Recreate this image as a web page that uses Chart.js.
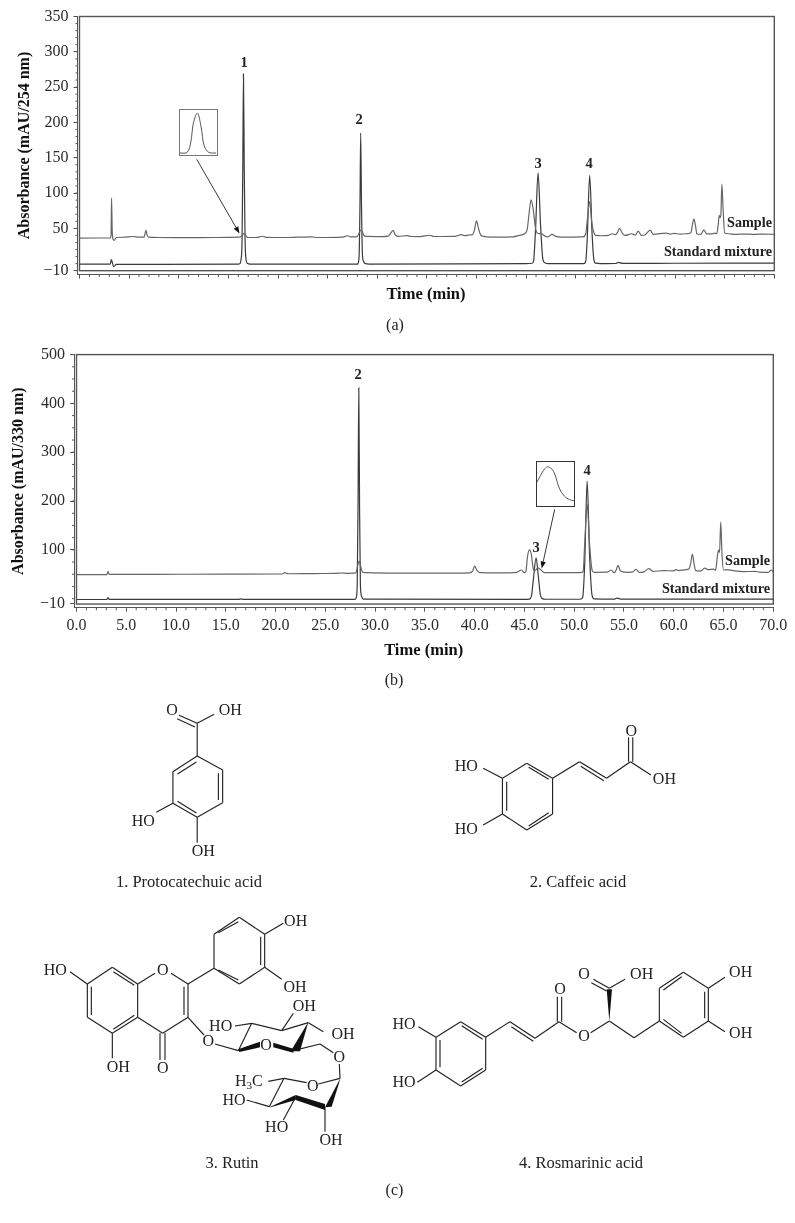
<!DOCTYPE html>
<html>
<head>
<meta charset="utf-8">
<title>HPLC chromatograms</title>
<script src="https://cdn.jsdelivr.net/npm/chart.js@4"></script>
<style>
  html, body { margin: 0; padding: 0; background: #fff; }
  #page { position: relative; width: 795px; height: 1223px; overflow: hidden; }
  canvas { position: absolute; display: block; }
  .inset { position: absolute; box-sizing: border-box; background: #fff; }
  .inset canvas { left: 0; top: 0; }
  #art { position: absolute; left: 0; top: 0; pointer-events: none; }
  #art text { font-family: "Liberation Serif", serif; fill: #222; }
  #art .lbl { font-weight: bold; }
  #art line, #art path { stroke: #222; fill: none; }
  #art polygon { fill: #111; stroke: none; }
</style>
</head>
<body>
<div id="page">
  <canvas id="chartA" width="795" height="310" style="left:0;top:0"></canvas>
  <canvas id="chartB" width="795" height="345" style="left:0;top:340px"></canvas>
  <div class="inset" style="left:179px;top:109px;width:39px;height:47px;border:1.5px solid #777">
    <canvas id="insetA" width="36" height="44"></canvas>
  </div>
  <div class="inset" style="left:536px;top:461px;width:39px;height:46px;border:1px solid #333">
    <canvas id="insetB" width="37" height="44"></canvas>
  </div>
  <svg id="art" width="795" height="1223" xmlns="http://www.w3.org/2000/svg"></svg>
</div>
<script>
// ---- panel (a) 254 nm ----
const yTicksA = [-10, 50, 100, 150, 200, 250, 300, 350];
const sampleTimeA = [0,3.1,3.18,3.23,3.3,3.4,3.5,3.7,4.5,5.4,6,6.5,6.6,6.69,6.8,6.95,8,12,15,16,16.25,16.4,16.55,16.7,16.85,17,18,18.4,18.8,21,23.4,24,26.5,27,27.3,27.9,28.1,28.25,28.38,28.5,28.65,28.9,30.5,31.1,31.35,31.6,31.8,32.1,33,33.4,34.3,35.3,35.7,37.8,38.5,38.8,39.2,39.6,39.8,40,40.2,40.4,40.7,41.5,43.7,44.3,44.8,45.1,45.3,45.5,45.7,45.95,46.15,46.5,46.9,47.2,47.6,48,48.5,50.7,51,51.15,51.4,51.6,51.8,52,52.6,53.3,53.7,54,54.2,54.4,54.7,55,55.6,56,56.3,56.6,57,57.5,57.8,59.1,59.5,59.9,60.5,61.3,61.6,61.75,61.9,62.05,62.2,62.6,62.9,63.2,63.7,64,64.2,64.35,64.45,64.55,64.62,64.72,64.85,65,65.4,66,67,68,69,70];
const sampleValueA = [36.2,36.4,40,92.8,45,34,32.9,37,37.4,38.4,37.4,37.6,42,47.5,41,37.5,37,36.8,37.2,37.4,38,40,42.5,41,38,37,37.3,38.8,37.3,37,37.8,37,37.6,39.5,37.8,38,41,46,48,45,40,38.5,38.3,39,43,47,41,38.6,39.6,38.4,38.2,40.2,38.4,38.6,41,39.6,40.5,41,48,60.7,50,41,38.6,37.6,38,40,42,48,72,90.4,78,50,43,42.5,39,38,41.4,38.5,37.6,38,42,60,88,60,45,40,39.5,40,42.3,41,44,49.9,43,40,42.3,40.5,46.1,40,41,47.5,41.5,43.3,41.9,42.8,41.9,42.5,44,55,63.1,55,42,41.5,47.5,42,42,43.3,42.5,55,68.3,65,70,112.6,75,43.3,42.3,41.4,41.9,41.4,41.9,41.4];
const standardTimeA = [0,3.1,3.2,3.3,3.45,3.7,8,16,16.15,16.28,16.38,16.45,16.52,16.6,16.68,16.78,16.9,17.2,28,28.05,28.17,28.26,28.33,28.41,28.5,28.62,28.8,29.2,45,45.6,45.75,45.95,46.2,46.45,46.65,46.8,47.2,50.8,51,51.15,51.4,51.65,51.82,52,52.5,54,54.3,54.7,60,70];
const standardValueA = [-0.6,-0.6,5.6,2,-4.3,-1,-1,-0.8,0,6,35,130,268.7,130,35,6,0.6,-0.6,-0.8,0,10,85,184.7,85,15,3,0,-0.6,0,0.5,4,50,128.6,55,10,2,0,0,3,35,124.9,40,6,0.6,0,0.2,1.8,0.3,0.5,0.8];
const insetTimeA = [16.2,16.34,16.41,16.46,16.54,16.61,16.67,16.76,16.9];
const insetValueA = [37,37.1,38.5,41.1,42.5,40.6,38,37.1,37];

// ---- panel (b) 330 nm ----
const yTicksB = [-10, 100, 200, 300, 400, 500];
const xTicks = [0, 5, 10, 15, 20, 25, 30, 35, 40, 45, 50, 55, 60, 65, 70];
const sampleTimeB = [0,3.05,3.17,3.3,8,15,20.7,20.9,21.3,24,26,26.6,27.2,27.9,28.1,28.25,28.4,28.55,28.75,29,32,36,39.5,39.8,40,40.2,40.5,43,44.2,44.7,45,45.15,45.3,45.5,45.7,45.9,46.1,46.35,46.6,47,50.6,50.9,51.05,51.3,51.55,51.8,52,53.3,53.7,54,54.2,54.4,54.65,55.3,55.8,56.2,56.55,57,57.5,57.9,59,60,60.2,60.5,61.2,61.5,61.7,61.87,62.05,62.2,62.7,63.1,63.5,64,64.2,64.4,64.5,64.6,64.72,64.85,65,65.3,66,67,68.2,68.6,69.5,69.8,70];
const sampleValueB = [49.2,49.4,55.3,49.6,49.8,50.2,50.5,53.2,51,51.5,51.9,52.6,52,52.2,54,68,77.6,66,54,53.2,52.2,52.4,53,57,66.8,59,53.5,53,54,58.7,53.2,56,85,100,90,60,58,63,60,53.2,53.2,56,110,194,110,58,54,54.2,58.7,53.5,58,68.1,56.5,54,54.2,60,53.8,55,61.4,56,57.3,57,59.3,57.5,59.3,60.7,72,91.2,70,57.3,56.6,62.7,59.3,60.7,58,90,99.3,95,156.9,90,58.7,59.5,57.3,55.5,55.9,54.5,53.9,58.7,55];
const standardTimeB = [0,3.05,3.17,3.3,16.3,16.5,16.8,28,28.1,28.2,28.28,28.36,28.44,28.52,28.64,28.8,45,45.5,45.7,45.9,46.17,46.4,46.6,46.8,47.2,50.6,50.85,51.05,51.3,51.55,51.8,52,54,54.3,54.7,70];
const standardValueB = [-1.7,-1.7,2.4,-1.6,-1.5,-0.3,-1.4,-1.4,2,28,180,432,180,28,5,-1,-1.4,-1,5,40,83.7,45,8,0,-1.2,-1.2,3,70,241,85,6,-0.5,-1,1,-0.8,-0.8];
const insetTimeB = [46,46.09,46.18,46.28,46.4,46.48,46.61,46.74,46.87,47];
const insetValueB = [59.4,60.9,62.2,63,62.5,61.3,57.8,56.1,55.3,55];

const serif = '"Liberation Serif", serif';
const inkAxis = '#555';

function pts(ts, vs) { return ts.map((t, i) => ({ x: t, y: vs[i] })); }

// frame of the plot plus the short ticks the scale cannot draw itself
function frameAndMinor(boxBottom, yMinorFrom, yMinorStep, yMax) {
  return {
    id: 'frameAndMinor',
    beforeDatasetsDraw(chart) {
      const c = chart.ctx, x = chart.scales.x, y = chart.scales.y, a = chart.chartArea;
      c.save();
      c.strokeStyle = inkAxis;
      c.lineWidth = 1.4;
      c.strokeRect(x.getPixelForValue(0), y.getPixelForValue(yMax), x.getPixelForValue(70) - x.getPixelForValue(0), y.getPixelForValue(boxBottom) - y.getPixelForValue(yMax));
      c.lineWidth = 1;
      c.beginPath();
      for (let t = 0; t <= 70; t++) {
        if (t % 5 === 0) continue;
        const px = x.getPixelForValue(t);
        c.moveTo(px, a.bottom);
        c.lineTo(px, a.bottom + 2.5);
      }
      for (let v = yMinorFrom; v <= yMax; v += yMinorStep) {
        const py = y.getPixelForValue(v);
        c.moveTo(a.left, py);
        c.lineTo(a.left - 2, py);
      }
      c.stroke();
      c.restore();
    }
  };
}

function makeChart(id, cfg) {
  const lineStyle = { borderWidth: 1.2, pointRadius: 0, cubicInterpolationMode: 'monotone' };
  return new Chart(document.getElementById(id), {
    type: 'line',
    data: {
      datasets: [
        { label: 'Sample', data: pts(cfg.sampleT, cfg.sampleV), borderColor: '#666', ...lineStyle },
        { label: 'Standard mixture', data: pts(cfg.stdT, cfg.stdV), borderColor: '#3a3a3a', ...lineStyle }
      ]
    },
    options: {
      responsive: false,
      animation: false,
      parsing: false,
      normalized: true,
      layout: { padding: { left: 0, top: cfg.top, right: cfg.right, bottom: 0 } },
      plugins: { legend: { display: false }, tooltip: { enabled: false } },
      scales: {
        x: {
          type: 'linear', min: cfg.xMin, max: 70,
          afterBuildTicks: s => { s.ticks = xTicks.map(v => ({ value: v })); },
          afterFit: s => { s.height = cfg.xHeight; },
          grid: { drawOnChartArea: false, tickLength: 4, tickColor: inkAxis, tickWidth: 1 },
          border: { color: inkAxis, width: 1 },
          ticks: { display: cfg.xLabels, autoSkip: false, maxRotation: 0, padding: 4, color: '#2b2b2b', font: { family: serif, size: 16 }, callback: v => v.toFixed(1) },
          title: { display: true, text: 'Time (min)', color: '#111', font: { family: serif, size: 16.5, weight: 'bold' }, padding: { top: 0, bottom: cfg.xTitlePad } }
        },
        y: {
          type: 'linear', min: cfg.yMin, max: cfg.yMax,
          afterBuildTicks: s => { s.ticks = cfg.yTicks.map(v => ({ value: v })); },
          afterFit: s => { s.width = cfg.yWidth; },
          grid: { drawOnChartArea: false, tickLength: 4, tickColor: inkAxis, tickWidth: 1 },
          border: { color: inkAxis, width: 1 },
          ticks: { autoSkip: false, padding: 5, color: '#2b2b2b', font: { family: serif, size: 16 }, callback: v => String(v).replace('-', '\u2212') },
          title: { display: true, text: cfg.yTitle, color: '#111', font: { family: serif, size: 16, weight: 'bold' }, padding: { top: cfg.yTitlePad, bottom: 0 } }
        }
      }
    },
    plugins: [frameAndMinor(cfg.boxBottom, cfg.minorFrom, cfg.minorStep, cfg.yMax)]
  });
}

makeChart('chartA', {
  sampleT: sampleTimeA, sampleV: sampleValueA, stdT: standardTimeA, stdV: standardValueA,
  yTicks: yTicksA, yMin: -15.4, yMax: 350, boxBottom: -10, minorFrom: -10, minorStep: 10,
  xMin: -0.2, xLabels: false, top: 16.5, right: 20.7, xHeight: 35.5, yWidth: 77.5,
  yTitle: 'Absorbance (mAU/254 nm)', yTitlePad: 15, xTitlePad: 5
});
makeChart('chartB', {
  sampleT: sampleTimeB, sampleV: sampleValueB, stdT: standardTimeB, stdV: standardValueB,
  yTicks: yTicksB, yMin: -18.5, yMax: 500, boxBottom: -11, minorFrom: 0, minorStep: 25,
  xMin: -0.25, xLabels: true, top: 12.3, right: 21.7, xHeight: 77.3, yWidth: 74,
  yTitle: 'Absorbance (mAU/330 nm)', yTitlePad: 9, xTitlePad: 24
});

function makeInset(id, ts, vs, yMin, yMax, xMin, xMax) {
  return new Chart(document.getElementById(id), {
    type: 'line',
    data: { datasets: [{ data: pts(ts, vs), borderColor: '#555', borderWidth: 1, pointRadius: 0, tension: 0.35 }] },
    options: {
      responsive: false, animation: false, parsing: false,
      plugins: { legend: { display: false }, tooltip: { enabled: false } },
      scales: {
        x: { type: 'linear', display: false, min: xMin, max: xMax },
        y: { type: 'linear', display: false, min: yMin, max: yMax }
      }
    }
  });
}
makeInset('insetA', insetTimeA, insetValueA, 36.87, 42.93, 16.2, 16.9);
makeInset('insetB', insetTimeB, insetValueB, 53.77, 64.15, 46, 47);

// ---- labels, arrows and the structure drawings (c) ----
const art = document.getElementById('art');
let svg = '';
function txt(x, y, s, size, cls, anchor) {
  svg += `<text x="${x}" y="${y}" font-size="${size}" text-anchor="${anchor || 'middle'}"${cls ? ` class="${cls}"` : ''}>${s}</text>`;
}
function arrow(x1, y1, x2, y2) {
  const a = Math.atan2(y2 - y1, x2 - x1), l = 7, w = 2.6;
  const bx = x2 - l * Math.cos(a), by = y2 - l * Math.sin(a);
  svg += `<line x1="${x1}" y1="${y1}" x2="${bx}" y2="${by}" stroke-width="0.9"/>`;
  svg += `<polygon points="${x2},${y2} ${bx - w * Math.sin(a)},${by + w * Math.cos(a)} ${bx + w * Math.sin(a)},${by - w * Math.cos(a)}"/>`;
}

[['1', 244, 67], ['2', 359, 124], ['3', 538, 168], ['4', 589, 168]].forEach(l => txt(l[1], l[2], l[0], 14.5, 'lbl'));
[['2', 358, 379], ['3', 536, 552], ['4', 587, 475]].forEach(l => txt(l[1], l[2], l[0], 14.5, 'lbl'));
txt(772, 227, 'Sample', 14.2, 'lbl', 'end');
txt(772, 255.5, 'Standard mixture', 14.2, 'lbl', 'end');
txt(770, 564.5, 'Sample', 14.2, 'lbl', 'end');
txt(770, 593, 'Standard mixture', 14.2, 'lbl', 'end');
arrow(196.7, 159.3, 239.5, 233.5);
arrow(554.7, 509.3, 541.7, 568.5);
txt(395, 330, '(a)', 16);
txt(394, 685, '(b)', 16);
txt(394.5, 1195, '(c)', 16);
txt(189, 887, '1. Protocatechuic acid', 16.5);
txt(578, 887, '2. Caffeic acid', 16.5);
txt(232, 1168, '3. Rutin', 16.5);
txt(581, 1168, '4. Rosmarinic acid', 16.5);

let place = { ox: 0, oy: 0, sx: 1, sy: 1 };
const px = x => place.ox + x * place.sx;
const py = y => place.oy + y * place.sy;
function bonds(list) {
  list.forEach(b => { svg += `<line x1="${px(b[0])}" y1="${py(b[1])}" x2="${px(b[2])}" y2="${py(b[3])}" stroke-width="1.15"/>`; });
}
function wedge(list) {
  list.forEach(p => {
    const out = p.split(' ').map(q => { const c = q.split(','); return px(+c[0]) + ',' + py(+c[1]); });
    svg += `<polygon points="${out.join(' ')}"/>`;
  });
}
function atoms(list) {
  list.forEach(a => txt(px(a[1]), py(a[2]) + 5, a[0], 16));
}

place = { ox: 90, oy: 690, sx: 0.3856, sy: 0.33333 };
bonds([[278,198,344,240],[344,240,344,338],[344,338,278,382],[278,382,215,340],[215,340,215,245],[215,245,278,198],
  [227,252,276,216],[333,250,333,330],[227,334,276,369],
  [278,198,278,100],[278,100,231,76],[272,111,226,86],[278,100,322,73],[215,340,172,367],[278,382,278,458]]);
atoms([['O',213,60],['OH',364,60],['HO',138,392],['OH',294,483]]);

place = { ox: 86, oy: 690, sx: 0.3856, sy: 0.33333 };
bonds([[1080,265,1143,220],[1143,220,1210,265],[1210,265,1210,372],[1210,372,1143,420],[1143,420,1080,372],[1080,372,1080,265],
  [1091,275,1091,362],[1148,232,1200,268],[1148,408,1200,368],
  [1210,265,1280,215],[1280,215,1350,265],[1283,229,1343,272],[1350,265,1412,215],[1407,215,1407,142],[1418,215,1418,142],[1412,215,1465,255],
  [1030,235,1080,265],[1030,405,1080,372]]);
atoms([['O',1414,122],['OH',1500,268],['HO',986,228],['HO',986,418]]);

place = { ox: 30, oy: 890, sx: 0.33333, sy: 0.33333 };
bonds([[172,282,247,232],[247,232,323,282],[323,282,323,382],[323,382,247,430],[247,430,172,382],[172,382,172,282],
  [184,290,184,375],[250,245,313,286],[250,418,313,376],
  [323,282,375,250],[423,250,474,282],[474,282,474,382],[462,290,462,375],[474,382,398,430],[398,430,323,382],
  [390,430,390,510],[405,430,405,510],[247,430,247,505],[120,245,172,282],
  [474,282,552,235],[552,235,552,133],[552,133,628,82],[628,82,704,133],[704,133,704,232],[704,232,628,282],[628,282,552,235],
  [565,128,625,95],[692,140,692,225],[565,240,625,270],[704,133,760,100],[704,232,755,268],
  [474,382,522,435],[555,462,625,482],[625,482,665,400],[665,400,755,422],[755,422,835,398],[835,398,880,425],[755,422,790,370],[665,400,615,408],
  [790,482,870,462],[870,462,910,488],[928,522,930,565],[930,565,865,582],[830,578,762,565],[762,565,715,574],[762,565,718,650],[718,650,650,630],[797,622,760,690],[885,652,885,725]]);
wedge(['625,478 690,455 690,472 628,486','730,458 790,476 790,488 730,472','835,396 810,484 782,484','718,652 797,615 797,630 722,652','797,615 885,642 885,660 797,630','932,563 905,650 885,652']);
atoms([['HO',76,240],['O',398,240],['OH',797,92],['OH',795,292],['O',398,535],['OH',265,530],['O',535,452],['O',708,464],['HO',572,408],['OH',823,348],['OH',939,432],['O',928,500],['O',848,588],['HO',612,630],['HO',740,712],['OH',903,750]]);
svg += '<text x="235" y="1086" font-size="16">H<tspan font-size="11" dy="3">3</tspan><tspan dy="-3">C</tspan></text>';

place = { ox: 380, oy: 950, sx: 0.33333, sy: 0.33333 };
bonds([[168,262,242,215],[242,215,317,262],[317,262,317,360],[317,360,242,408],[242,408,168,360],[168,360,168,262],
  [180,270,180,352],[245,227,308,268],[245,396,308,355],[115,230,168,262],[112,397,168,360],
  [317,262,390,215],[390,215,465,265],[394,230,460,274],[465,265,537,215],[532,215,532,140],[545,215,545,140],[537,215,590,248],[632,248,688,213],
  [688,115,640,88],[680,123,634,98],[688,115,735,88],[688,213,762,263],[762,263,838,213],
  [838,213,838,115],[838,115,910,67],[910,67,985,115],[985,115,985,213],[985,213,910,262],[910,262,838,213],
  [850,120,905,80],[974,125,974,205],[850,208,905,250],[985,115,1035,82],[985,213,1035,245]]);
wedge(['688,213 680,118 696,118']);
atoms([['HO',72,222],['HO',72,397],['O',540,118],['O',612,258],['O',612,72],['OH',785,72],['OH',1082,65],['OH',1082,250]]);

art.innerHTML = svg;
</script>
</body>
</html>
